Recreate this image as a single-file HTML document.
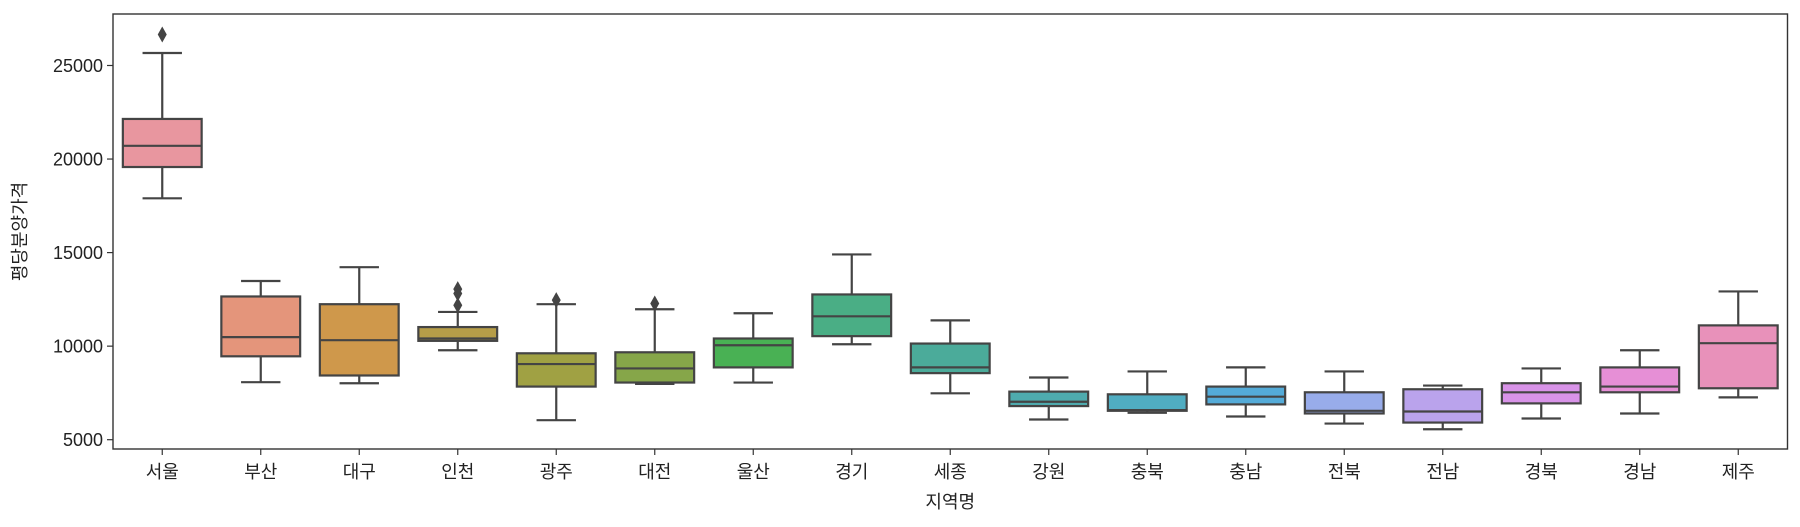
<!DOCTYPE html>
<html><head><meta charset="utf-8"><style>
html,body{margin:0;padding:0;background:#fff;}
svg{display:block;font-family:"Liberation Sans","Noto Sans CJK KR",sans-serif;}
</style></head><body>
<svg id="chart" width="1800" height="527" xmlns="http://www.w3.org/2000/svg"></svg>
<script>
const categories=["서울","부산","대구","인천","광주","대전","울산","경기","세종","강원","충북","충남","전북","전남","경북","경남","제주"];
const whiskerLow=[17902,8073,8019,9780,6042,7983,8055,10103,7480,6078,6437,6240,5863,5557,6132,6402,7264];
const q1=[19574,9457,8432,10283,7839,8055,8864,10535,8558,6797,6545,6887,6402,5916,6941,7534,7749];
const median=[20706,10481,10319,10409,9043,8810,10050,11595,8864,7030,6581,7300,6545,6509,7534,7839,10157];
const q3=[22143,12655,12242,11020,9618,9672,10409,12763,10139,7570,7426,7839,7534,7696,8019,8864,11110];
const whiskerHigh=[25666,13482,14219,11829,12242,11973,11757,14901,11379,8324,8648,8864,8648,7893,8810,9780,12925];
const outliers=[[26654],[],[],[13051,12817,12188],[12457],[12278],[],[],[],[],[],[],[],[],[],[],[]];
const yTicks=[5000,10000,15000,20000,25000];
const colors=["#e8969f","#e4957b","#cf984b","#b69d48","#a0a143","#86a649","#49b154","#4aae85","#4bab9a","#4eabae","#50adc2","#54abd8","#98acea","#baa3ec","#d893e8","#e68fd6","#e891ba"];
const L=113,R=1787.5,T=14,B=449,yMin=4503,yMax=27752;
const NS="http://www.w3.org/2000/svg";
const svg=document.getElementById('chart');
function y(v){return B-(v-yMin)/(yMax-yMin)*(B-T);}
const band=(R-L)/categories.length;
function xc(i){return L+band*(i+0.5);}
function mk(tag,attrs,parent){const e=document.createElementNS(NS,tag);for(const k in attrs)e.setAttribute(k,attrs[k]);(parent||svg).appendChild(e);return e;}
const stroke="#444444";
categories.forEach((c,i)=>{
  const g=mk('g',{});
  
  
  const cx=xc(i),w=band*0.8,cw=band*0.4;
  mk('line',{x1:cx,x2:cx,y1:y(whiskerHigh[i]),y2:y(q3[i]),stroke:stroke,'stroke-width':2.2},g);
  mk('line',{x1:cx,x2:cx,y1:y(q1[i]),y2:y(whiskerLow[i]),stroke:stroke,'stroke-width':2.2},g);
  mk('line',{x1:cx-cw/2,x2:cx+cw/2,y1:y(whiskerHigh[i]),y2:y(whiskerHigh[i]),stroke:stroke,'stroke-width':2.2},g);
  mk('line',{x1:cx-cw/2,x2:cx+cw/2,y1:y(whiskerLow[i]),y2:y(whiskerLow[i]),stroke:stroke,'stroke-width':2.2},g);
  mk('rect',{x:cx-w/2,y:y(q3[i]),width:w,height:y(q1[i])-y(q3[i]),fill:colors[i],stroke:stroke,'stroke-width':2.2},g);
  mk('line',{x1:cx-w/2,x2:cx+w/2,y1:y(median[i]),y2:y(median[i]),stroke:stroke,'stroke-width':2.2},g);
  outliers[i].forEach(v=>{
    const yy=y(v);
    const p=mk('path',{d:`M${cx} ${yy-8} L${cx+4.5} ${yy} L${cx} ${yy+8} L${cx-4.5} ${yy} Z`,fill:stroke},g);
    
    
  });
  mk('line',{x1:cx,x2:cx,y1:B,y2:B+6,stroke:"#333",'stroke-width':1.2});
  const t=mk('text',{x:cx,y:478,'text-anchor':'middle','font-size':18,fill:'#222'});
  t.textContent=c;
  
  
});
yTicks.forEach(v=>{
  mk('line',{x1:L-6,x2:L,y1:y(v),y2:y(v),stroke:"#333",'stroke-width':1.2});
  const t=mk('text',{x:L-10,y:y(v)+6.5,'text-anchor':'end','font-size':18,fill:'#222'});
  t.textContent=v;
  
  
});
const frame=mk('rect',{x:L,y:T,width:R-L,height:B-T,fill:'none',stroke:'#333','stroke-width':1.4});


const xl=mk('text',{x:(L+R)/2,y:508,'text-anchor':'middle','font-size':18,fill:'#222'});
xl.textContent='지역명';


const yl=mk('text',{x:0,y:0,'text-anchor':'middle','font-size':18,fill:'#222',transform:`translate(26,${(T+B)/2}) rotate(-90)`});
yl.textContent='평당분양가격';


</script>
</body></html>
